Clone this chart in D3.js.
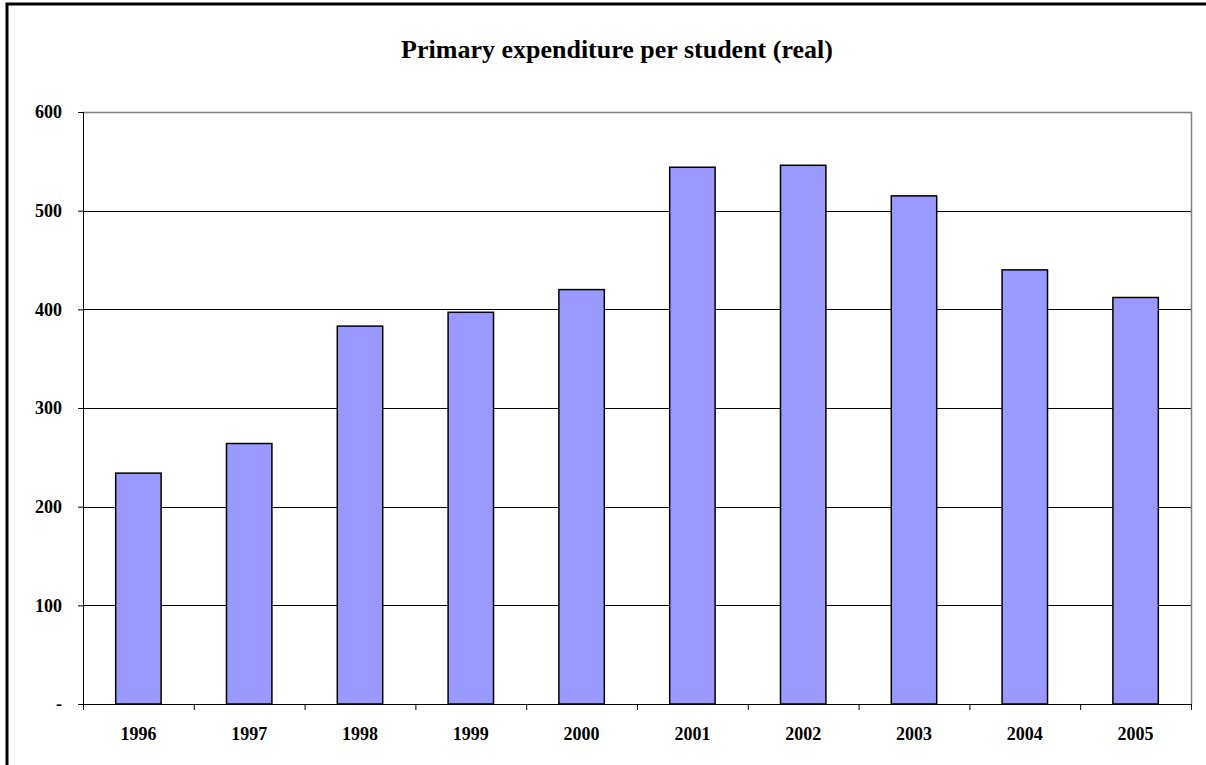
<!DOCTYPE html>
<html>
<head>
<meta charset="utf-8">
<script src="https://cdn.jsdelivr.net/npm/d3@7"></script>
<style>
  body { margin: 0; background: #fff; }
  svg { display: block; font-family: "Liberation Serif", "Times New Roman", serif; }
</style>
</head>
<body>
<svg id="chart" width="1206" height="765"></svg>
<script>
// data
var years = ["1996", "1997", "1998", "1999", "2000", "2001", "2002", "2003", "2004", "2005"];
var spend = [234, 264, 383, 397, 420, 544, 546, 515, 440, 412];
var yTicks = [0, 100, 200, 300, 400, 500, 600];

var svg = d3.select("#chart");

// outer frame, runs off right and bottom edge
svg.append("rect")
  .attr("x", 7).attr("y", 4)
  .attr("width", 1300).attr("height", 900)
  .style("fill", "none").style("stroke", "#000").style("stroke-width", 3);

// plot area edges (don't call it "top", window.top is read only)
var pLeft = 83, pRight = 1191, pTop = 112, pBottom = 704;

var x = d3.scaleBand().domain(years).range([pLeft, pRight]).padding(0);
var y = d3.scaleLinear().domain([0, 600]).range([pBottom, pTop]);

// title
svg.append("text")
  .attr("x", 617).attr("y", 58)
  .attr("text-anchor", "middle")
  .style("font-weight", "bold").style("font-size", "26px")
  .text("Primary expenditure per student (real)");

// gridlines
svg.append("g").selectAll("line")
  .data(yTicks.filter(function(d) { return d > 0 && d < 600; }))
  .enter().append("line")
  .attr("x1", pLeft).attr("x2", pRight)
  .attr("y1", function(d) { return Math.round(y(d)) + 0.5; })
  .attr("y2", function(d) { return Math.round(y(d)) + 0.5; })
  .style("stroke", "#000").style("stroke-width", 1);

// plot border top + right (grey)
svg.append("path")
  .attr("d", "M" + pLeft + "," + (pTop + 0.5) + "H" + (pRight + 0.5) + "V" + pBottom)
  .style("fill", "none").style("stroke", "#808080").style("stroke-width", 1.5);

// bars
var bw = x.bandwidth() * 0.41;
svg.append("g").selectAll("rect")
  .data(spend)
  .enter().append("rect")
  .attr("x", function(d, i) { return x(years[i]) + (x.bandwidth() - bw) / 2; })
  .attr("y", function(d) { return y(d); })
  .attr("width", bw)
  .attr("height", function(d) { return pBottom - y(d); })
  .style("fill", "#9999FF").style("stroke", "#000").style("stroke-width", 1.5);

// y axis
var yAxis = d3.axisLeft(y)
  .tickValues(yTicks)
  .tickSize(5)
  .tickPadding(16)
  .tickFormat(function(d) { return d === 0 ? "-" : d; });
var gy = svg.append("g").attr("transform", "translate(" + pLeft + ",0)").call(yAxis);
gy.select(".domain").remove();
gy.append("line").attr("x1", 0.5).attr("x2", 0.5).attr("y1", pTop).attr("y2", pBottom)
  .style("stroke", "#000");
gy.selectAll(".tick line").style("stroke", "#000");
gy.selectAll("text").style("font-size", "18px").style("font-weight", "bold")
  .style("font-family", "'Liberation Serif', 'Times New Roman', serif").attr("fill", "#000");

// x axis: ticks at category boundaries
var gx = svg.append("g");
gx.append("line").attr("x1", pLeft).attr("x2", pRight + 1)
  .attr("y1", pBottom + 0.5).attr("y2", pBottom + 0.5).style("stroke", "#000");
gx.selectAll("line.tk")
  .data(years.concat(["end"]))
  .enter().append("line").attr("class", "tk")
  .attr("x1", function(d, i) { return (i < years.length ? x(d) : pRight) + 0.5; })
  .attr("x2", function(d, i) { return (i < years.length ? x(d) : pRight) + 0.5; })
  .attr("y1", pBottom).attr("y2", pBottom + 6)
  .style("stroke", "#000");
gx.selectAll("text")
  .data(years)
  .enter().append("text")
  .attr("x", function(d) { return x(d) + x.bandwidth() / 2; })
  .attr("y", 740)
  .attr("text-anchor", "middle")
  .style("font-size", "18px").style("font-weight", "bold")
  .text(function(d) { return d; });
</script>
</body>
</html>
